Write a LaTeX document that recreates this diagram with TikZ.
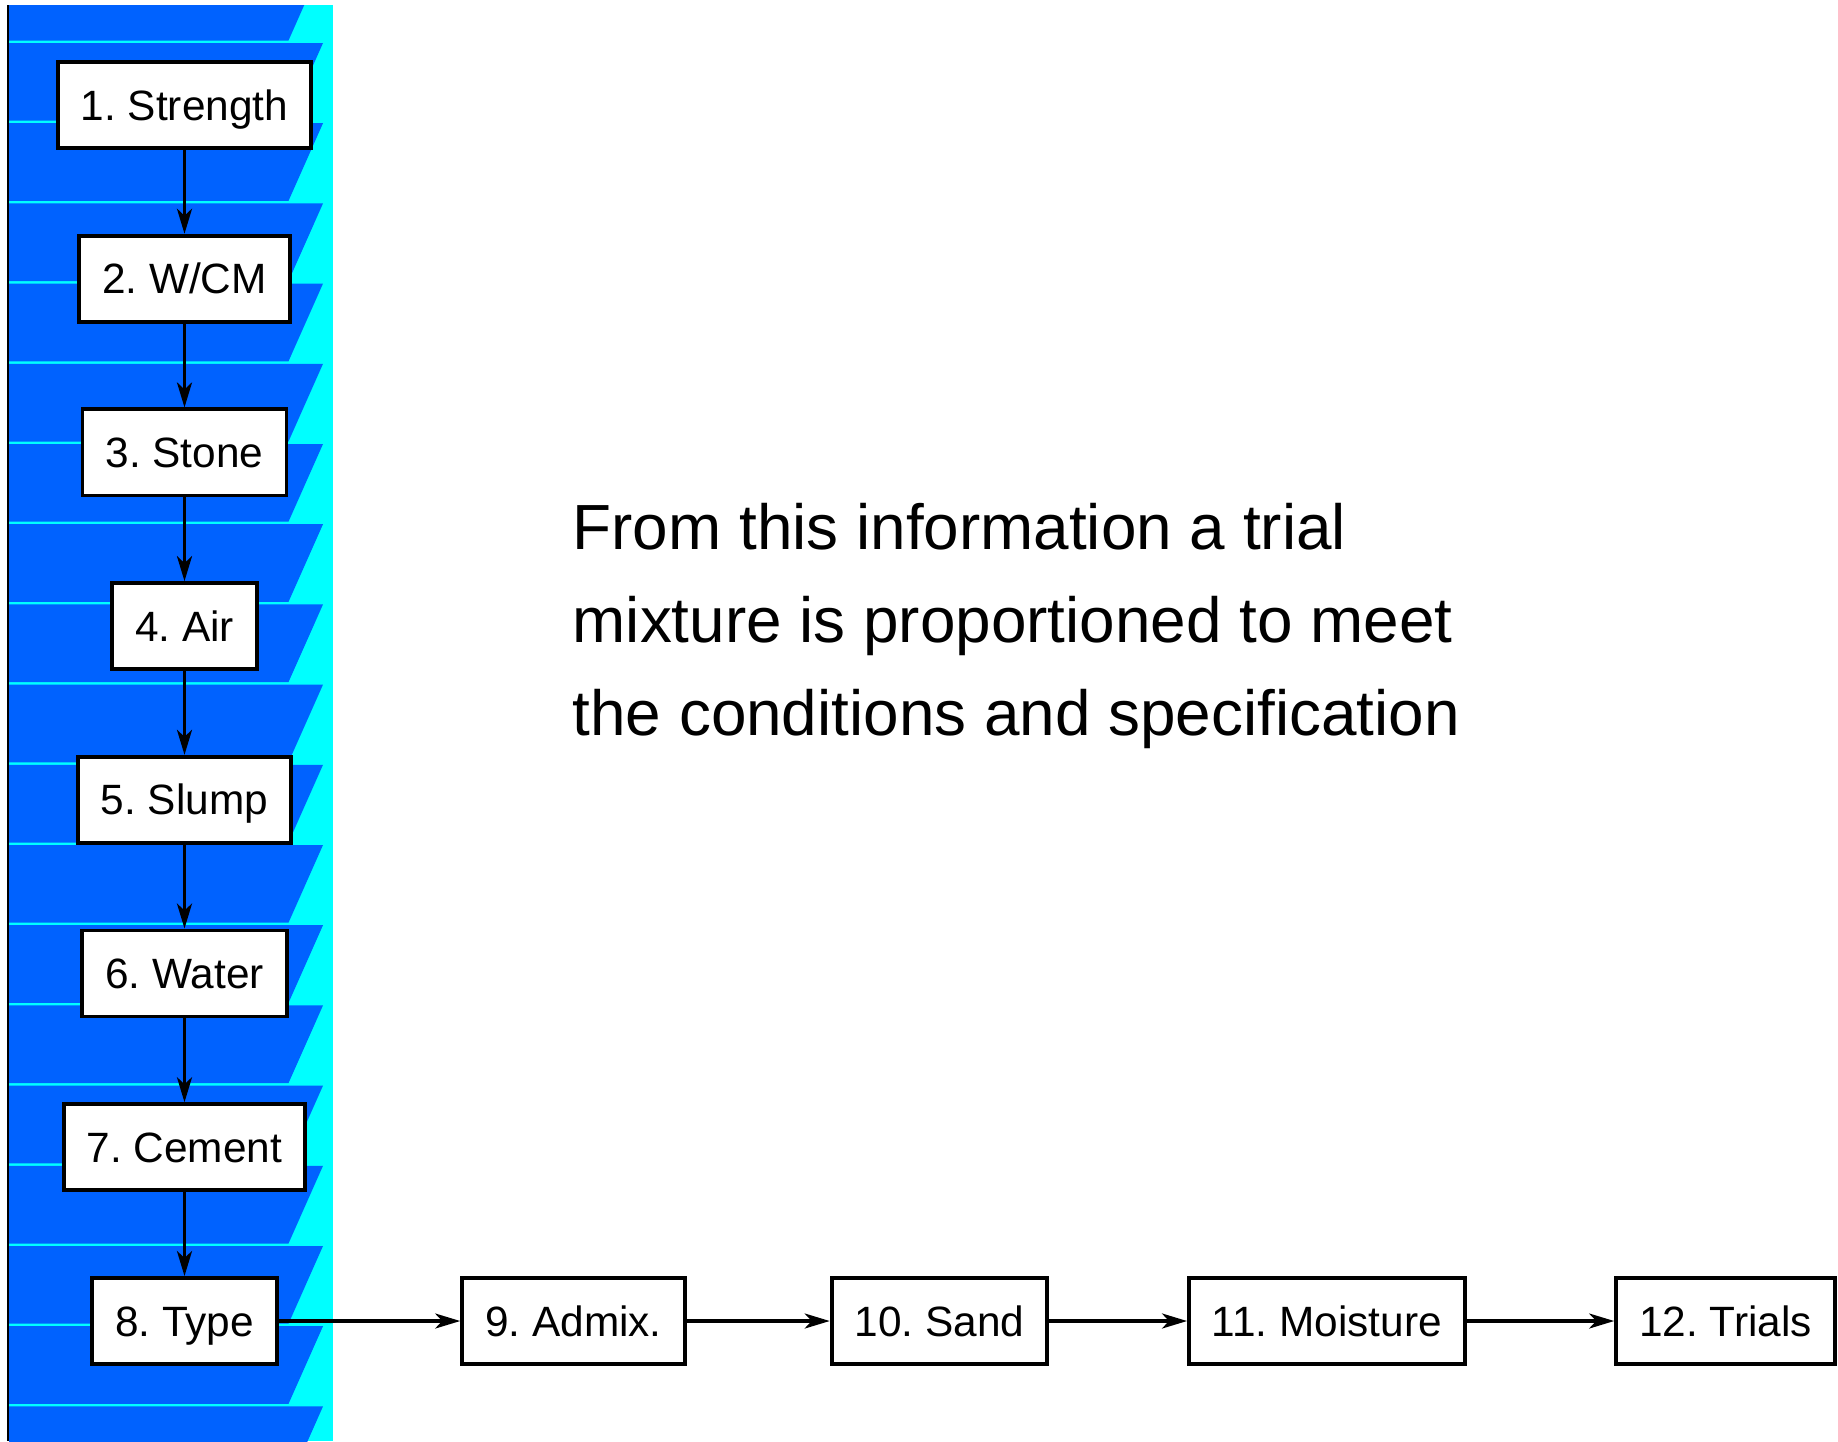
\documentclass[tikz,border=0pt]{standalone}
\usepackage{fontspec}
\setmainfont{Liberation Sans}
\usetikzlibrary{arrows.meta}
\definecolor{bandblue}{RGB}{0,98,255}
\definecolor{bandcyan}{RGB}{0,255,255}
\frenchspacing

\begin{document}
\begin{tikzpicture}[x=0.01cm, y=-0.01cm]
\tikzstyle{block} = [rectangle, draw=black, fill=white, line width=1.1pt, inner xsep=0.23cm, inner ysep=0pt, minimum height=0.86cm, text height=0.3cm, text depth=0cm, font=\fontsize{12.05}{14}\selectfont]
\tikzstyle{flow} = [draw=black, line width=0.95pt, -{Stealth[length=0.25cm, width=0.15cm, inset=0.07cm]}]

\useasboundingbox (0,0) rectangle (1838,1441);

% striped strip on the left
\begin{scope}
\clip (9,5) rectangle (333,1441);
\fill[bandcyan] (9,5) rectangle (333,1441);
\foreach \k in {0,...,18}
  \fill[bandblue] (9,{40.5+80.2*(\k-1)+2.5}) -- (323,{40.5+80.2*(\k-1)+2.5})
    -- (288.5,{40.5+80.2*\k}) -- (9,{40.5+80.2*\k}) -- cycle;
\end{scope}
\draw[line width=0.6pt] (8.3,5) -- (8.3,1441);

\node[block] (S1) at (184.5,105) {1. Strength};
\node[block] (S2) at (184.5,278.7) {2. W/CM};
\node[block] (S3) at (184.5,452.4) {3. Stone};
\node[block] (S4) at (184.5,626.1) {4. Air};
\node[block] (S5) at (184.5,799.8) {5. Slump};
\node[block] (S6) at (184.5,973.5) {6. Water};
\node[block] (S7) at (184.5,1147.2) {7. Cement};
\node[block] (S8) at (184.5,1321) {8. Type};
\node[block] (S9) at (573.5,1321) {9. Admix.};
\node[block] (S10) at (939.5,1321) {10. Sand};
\node[block] (S11) at (1327,1321) {11. Moisture};
\node[block] (S12) at (1725.5,1321) {12. Trials};

\path[flow] (S1) edge (S2);
\path[flow] (S2) edge (S3);
\path[flow] (S3) edge (S4);
\path[flow] (S4) edge (S5);
\path[flow] (S5) edge (S6);
\path[flow] (S6) edge (S7);
\path[flow] (S7) edge (S8);
\path[flow] (S8) edge (S9);
\path[flow] (S9) edge (S10);
\path[flow] (S10) edge (S11);
\path[flow] (S11) edge (S12);

\node[anchor=base west, inner sep=0pt, align=left, font=\fontsize{18.15}{26.35}\selectfont] (note) at (572,735)
  {From this information a trial\\mixture is proportioned to meet\\the conditions and specification};
\end{tikzpicture}
\end{document}
